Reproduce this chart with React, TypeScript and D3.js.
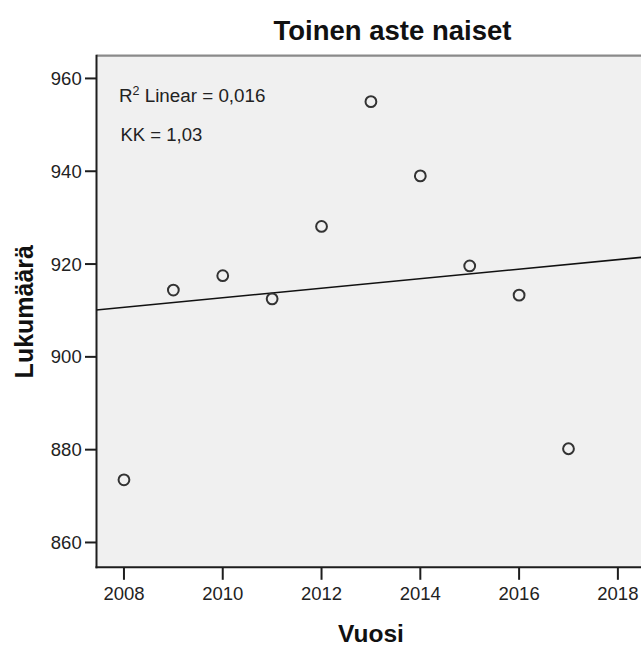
import React from "react";
import * as d3 from "d3";

const years = [2008, 2009, 2010, 2011, 2012, 2013, 2014, 2015, 2016, 2017];
const counts = [873.5, 914.4, 917.5, 912.5, 928.1, 955.0, 939.0, 919.6, 913.3, 880.2];
const xTicks = [2008, 2010, 2012, 2014, 2016, 2018];
const yTicks = [860, 880, 900, 920, 940, 960];
const titleText = "Toinen aste naiset";
const xLabel = "Vuosi";
const yLabel = "Lukumäärä";
const r2Text = "0,016";
const kkText = "KK = 1,03";

const W = 641;
const H = 647;
const FONT = "'Liberation Sans', Arial, sans-serif";

export default function App() {
  const left = 96.5;
  const right = 660;
  const top = 55.7;
  const bottom = 567.3;

  const x = d3.scaleLinear().domain([2007.44, 2018.8]).range([96.3, 657.4]);
  const y = d3.scaleLinear().domain([854.65, 964.9]).range([bottom, top]);

  // least squares fit
  const mx = d3.mean(years) as number;
  const my = d3.mean(counts) as number;
  const sxy = d3.sum(years.map((v, i) => (v - mx) * (counts[i] - my)));
  const sxx = d3.sum(years.map((v) => (v - mx) * (v - mx)));
  const slope = sxy / sxx;
  const icpt = my - slope * mx;
  const [d0, d1] = x.domain();
  const fitLine = d3.line<number>()
    .x((d) => x(d))
    .y((d) => y(icpt + slope * d))([d0, d1]);

  return (
    <svg width={W} height={H} style={{ position: "absolute", left: 0, top: 0, background: "#fff" }}>
      <defs>
        <clipPath id="plotClip">
          <rect x={left} y={top} width={right - left} height={bottom - top} />
        </clipPath>
      </defs>
      <rect x={left} y={top} width={right - left} height={bottom - top} fill="#f0f0f0" />
      {/* top border */}
      <line x1={left} x2={right} y1={top} y2={top} stroke="#8a8a8a" strokeWidth={2.2} />
      {/* axes */}
      <line x1={left} x2={left} y1={top - 1} y2={bottom + 1} stroke="#1e1e1e" strokeWidth={2} />
      <line x1={left - 1} x2={right} y1={bottom} y2={bottom} stroke="#1e1e1e" strokeWidth={2} />

      {yTicks.map((t) => (
        <g key={"y" + t}>
          <line x1={left - 11.5} x2={left} y1={y(t)} y2={y(t)} stroke="#1e1e1e" strokeWidth={2} />
          <text x={81.7} y={y(t) + 6.6} textAnchor="end" fontFamily={FONT} fontSize={18.5} fill="#222">
            {t}
          </text>
        </g>
      ))}
      {xTicks.map((t) => (
        <g key={"x" + t}>
          <line x1={x(t)} x2={x(t)} y1={bottom} y2={bottom + 12.5} stroke="#1e1e1e" strokeWidth={2} />
          <text x={x(t)} y={599.5} textAnchor="middle" fontFamily={FONT} fontSize={18.5} fill="#222">
            {t}
          </text>
        </g>
      ))}

      <g clipPath="url(#plotClip)">
        <path d={fitLine || ""} fill="none" stroke="#111" strokeWidth={1.6} />
        {years.map((yr, i) => (
          <circle key={yr} cx={x(yr)} cy={y(counts[i])} r={5.4} fill="none" stroke="#333" strokeWidth={2} />
        ))}
      </g>

      <text x={119} y={101.7} fontFamily={FONT} fontSize={18.8} fill="#222">
        R<tspan fontSize={12.5} dy={-7}>2</tspan>
        <tspan dy={7}> Linear = {r2Text}</tspan>
      </text>
      <text x={120.5} y={140.7} fontFamily={FONT} fontSize={18.5} fill="#222">
        {kkText}
      </text>

      <text x={392.5} y={40} textAnchor="middle" fontFamily={FONT} fontSize={27.5} fontWeight="bold" fill="#111">
        {titleText}
      </text>
      <text x={371} y={641.5} textAnchor="middle" fontFamily={FONT} fontSize={24.5} fontWeight="bold" fill="#111">
        {xLabel}
      </text>
      <text
        transform={`translate(33.3, 311.7) rotate(-90)`}
        textAnchor="middle"
        fontFamily={FONT}
        fontSize={25}
        fontWeight="bold"
        fill="#111"
      >
        {yLabel}
      </text>
    </svg>
  );
}
